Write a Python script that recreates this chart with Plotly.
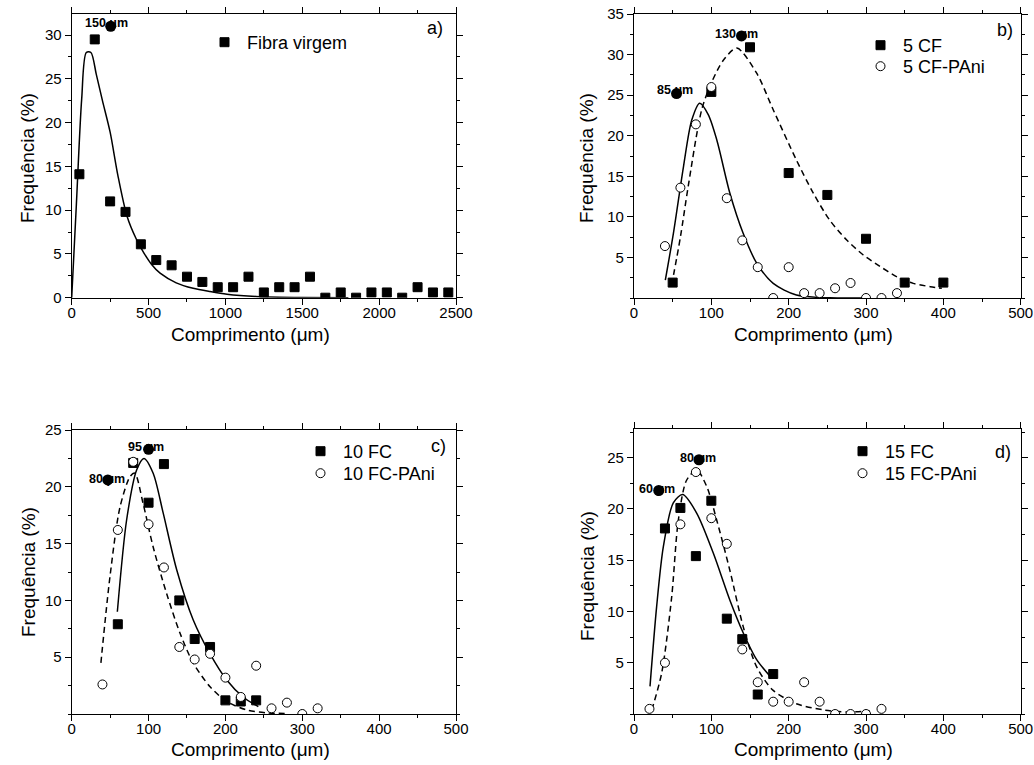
import plotly.graph_objects as go

FONT = "Liberation Sans, Arial, sans-serif"
W, H = 1034, 765

# ---------------- a) virgin fibre ----------------
a_len = [50, 150, 250, 350, 450, 550, 650, 750, 850, 950, 1050, 1150, 1250,
         1350, 1450, 1550, 1650, 1750, 1850, 1950, 2050, 2150, 2250, 2350, 2450]
a_freq = [14.1, 29.5, 11.0, 9.8, 6.1, 4.3, 3.7, 2.4, 1.8, 1.2, 1.2, 2.4, 0.6,
          1.2, 1.2, 2.4, 0.0, 0.6, 0.0, 0.6, 0.6, 0.0, 1.2, 0.6, 0.6]
a_fit_x = [0, 30, 65, 95, 125, 160, 200, 250, 300, 360, 420, 470, 520, 575,
           680, 790, 900, 1010, 1200, 1500, 1800]
a_fit_y = [0, 10.5, 22.7, 28.0, 28.0, 25.5, 22.5, 18.9, 14.0, 9.3, 6.7, 5.1,
           3.8, 2.8, 1.7, 1.07, 0.7, 0.4, 0.15, 0.03, 0.0]

# ---------------- b) 5 CF ----------------
b_cf_x = [50, 100, 150, 200, 250, 300, 350, 400]
b_cf_y = [1.9, 25.4, 30.9, 15.4, 12.7, 7.3, 1.9, 1.9]
b_pani_x = [40, 60, 80, 100, 120, 140, 160, 180, 200, 220, 240, 260, 280, 300, 320, 340]
b_pani_y = [6.4, 13.6, 21.4, 26.0, 12.3, 7.1, 3.8, 0.0, 3.8, 0.6, 0.6, 1.2, 1.85, 0.0, 0.0, 0.6]
b_fit_pani_x = [40.5, 51, 64, 74.6, 85, 96, 107, 124, 141, 158.6, 180, 210, 253, 300]
b_fit_pani_y = [2.2, 8.0, 16.2, 21.9, 24.0, 22.6, 19.5, 12.9, 8.0, 4.3, 1.8, 0.37, 0.02, 0.0]
b_fit_cf_x = [48.7, 60, 70, 87.5, 100, 115.5, 133, 158.6, 180, 210, 232, 253, 275,
              296.5, 318, 340, 361, 383, 398]
b_fit_cf_y = [1.6, 7.5, 13.7, 23.2, 26.5, 29.3, 30.8, 27.7, 23.2, 17.0, 12.9, 9.6,
              7.15, 5.3, 3.9, 2.6, 1.8, 1.4, 1.2]

# ---------------- c) 10 FC ----------------
c_fc_x = [60, 80, 100, 120, 140, 160, 180, 200, 220, 240]
c_fc_y = [7.9, 22.1, 18.6, 22.0, 10.0, 6.6, 5.9, 1.2, 1.1, 1.2]
c_pani_x = [40, 60, 80, 100, 120, 140, 160, 180, 200, 220, 240, 260, 280, 300, 320]
c_pani_y = [2.6, 16.2, 22.2, 16.7, 12.9, 5.9, 4.8, 5.3, 3.2, 1.5, 4.25, 0.5, 1.0, 0.0, 0.5]
c_fit_fc_x = [59.4, 71.5, 84.6, 94, 106, 119, 136.6, 158, 180, 201.7, 223, 242.8]
c_fit_fc_y = [9.0, 17.1, 21.5, 22.5, 21.2, 17.7, 12.7, 8.3, 5.3, 3.0, 1.5, 0.65]
c_fit_pani_x = [38, 49.8, 62.8, 75.9, 82, 93, 106, 123.5, 141, 158, 180, 201.7,
                227.7, 253.5, 280]
c_fit_pani_y = [4.5, 12.1, 18.2, 20.9, 21.2, 18.5, 14.7, 10.6, 7.1, 4.5, 2.4, 1.1,
                0.35, 0.1, 0.05]

# ---------------- d) 15 FC ----------------
d_fc_x = [40, 60, 80, 100, 120, 140, 160, 180]
d_fc_y = [18.1, 20.1, 15.4, 20.8, 9.3, 7.3, 1.9, 3.9]
d_pani_x = [20, 40, 60, 80, 100, 120, 140, 160, 180, 200, 220, 240, 260, 280, 300, 320]
d_pani_y = [0.5, 5.0, 18.5, 23.6, 19.1, 16.6, 6.3, 3.1, 1.2, 1.2, 3.1, 1.2, 0.0, 0.0, 0.0, 0.5]
d_fit_fc_x = [20.7, 29.3, 37.9, 50.8, 63, 81, 102.5, 124, 141.3, 158.6, 178]
d_fit_fc_y = [2.7, 10.5, 16.3, 20.6, 21.4, 19.6, 15.7, 11.1, 7.9, 5.3, 3.5]
d_fit_pani_x = [23, 35.8, 48.7, 57.3, 68, 81, 94, 107, 124, 141.3, 158.6, 180, 210,
                245, 275, 305]
d_fit_pani_y = [0.4, 4.0, 11.4, 18.9, 22.8, 23.8, 22.2, 18.9, 14.0, 8.5, 4.6, 2.3,
                1.0, 0.4, 0.2, 0.3]

# peak labels: (panel, text, text start x, text y, symbol x, symbol y)
peak_labels = [
    ("a", "150 μm", 71.6, 31.35, 254, 31.0),
    ("b", "130 μm", 101.8, 32.5, 139, 32.3),
    ("b", "85 μm", 27.2, 25.6, 55, 25.2),
    ("c", "95 μm", 70.3, 23.5, 100, 23.3),
    ("c", "80 μm", 19.5, 20.7, 47, 20.6),
    ("d", "80 μm", 56.5, 25.0, 84, 24.8),
    ("d", "60 μm", 4.3, 21.95, 32, 21.8),
]

# panel frames in pixels: left, right, top, bottom
frames = {
    "a": (71.7, 456.0, 14.0, 297.7),
    "b": (634.0, 1020.7, 14.0, 298.0),
    "c": (71.7, 456.0, 430.0, 714.0),
    "d": (634.0, 1020.7, 429.0, 714.0),
}
axis_ids = {"a": "", "b": "2", "c": "3", "d": "4"}
x_ranges = {"a": [0, 2500], "b": [0, 500], "c": [0, 500], "d": [0, 500]}
y_ranges = {"a": [0, 32.4], "b": [0, 35], "c": [0, 25], "d": [0, 27.8]}
y_ticks = {"a": [0, 5, 10, 15, 20, 25, 30], "b": [5, 10, 15, 20, 25, 30, 35],
           "c": [5, 10, 15, 20, 25], "d": [5, 10, 15, 20, 25]}
corner_labels = {"a": ("a)", 435, 28), "b": ("b)", 1005, 30),
                 "c": ("c)", 438, 446), "d": ("d)", 1003, 452)}
# axis title centres in pixels: (x title x, x title y, y title x, y title y)
title_pos = {"a": (250, 334, 28, 158), "b": (813, 334, 587, 158),
             "c": (250, 749, 28, 572), "d": (813, 749, 587, 576)}
# legend box corners in pixels (left, top), one key per legend
legend_box = {
    "Fibra virgem": (202, 24),
    "5 CF": (858, 27), "5 CF-PAni": (858, 48),
    "10 FC": (298, 433), "10 FC-PAni": (298, 455),
    "15 FC": (840, 433), "15 FC-PAni": (840, 455),
}

fig = go.Figure()
legend_count = [0]
layout_legends = {}


def refs(p):
    i = axis_ids[p]
    return "x" + i, "y" + i


def add_points(p, x, y, name, symbol):
    xr, yr = refs(p)
    legend_count[0] += 1
    lid = "legend" if legend_count[0] == 1 else "legend%d" % legend_count[0]
    lx, ly = legend_box[name]
    layout_legends[lid] = dict(
        x=lx / W, y=1 - ly / H, xanchor="left", yanchor="top",
        bgcolor="rgba(0,0,0,0)", borderwidth=0, itemwidth=35,
        font=dict(family=FONT, size=18, color="black"))
    fig.add_trace(go.Scatter(
        x=x, y=y, mode="markers", name=name, xaxis=xr, yaxis=yr, legend=lid,
        marker=dict(symbol=symbol, size=9,
                    color="black" if symbol == "square" else "white",
                    line=dict(color="black", width=1))))


def add_fit(p, x, y, dash):
    xr, yr = refs(p)
    fig.add_trace(go.Scatter(
        x=x, y=y, mode="lines", xaxis=xr, yaxis=yr, showlegend=False,
        line=dict(color="black", width=1.5, dash=dash, shape="spline", smoothing=0.8)))


add_fit("a", a_fit_x, a_fit_y, "solid")
add_points("a", a_len, a_freq, "Fibra virgem", "square")

add_fit("b", b_fit_pani_x, b_fit_pani_y, "solid")
add_fit("b", b_fit_cf_x, b_fit_cf_y, "6px,4px")
add_points("b", b_cf_x, b_cf_y, "5 CF", "square")
add_points("b", b_pani_x, b_pani_y, "5 CF-PAni", "circle")

add_fit("c", c_fit_fc_x, c_fit_fc_y, "solid")
add_fit("c", c_fit_pani_x, c_fit_pani_y, "6px,4px")
add_points("c", c_fc_x, c_fc_y, "10 FC", "square")
add_points("c", c_pani_x, c_pani_y, "10 FC-PAni", "circle")

add_fit("d", d_fit_fc_x, d_fit_fc_y, "solid")
add_fit("d", d_fit_pani_x, d_fit_pani_y, "6px,4px")
add_points("d", d_fc_x, d_fc_y, "15 FC", "square")
add_points("d", d_pani_x, d_pani_y, "15 FC-PAni", "circle")

annotations = []
for p, text, tx, ty, sx, sy in peak_labels:
    xr, yr = refs(p)
    fig.add_trace(go.Scatter(
        x=[sx], y=[sy], mode="markers", xaxis=xr, yaxis=yr, showlegend=False,
        cliponaxis=False, marker=dict(symbol="circle", size=11, color="black")))
    annotations.append(dict(
        x=tx, y=ty, xref=xr, yref=yr, text="<b>" + text + "</b>", showarrow=False,
        xanchor="left", yanchor="middle", font=dict(family=FONT, size=12.5, color="black")))

for p, (txt, px, py) in corner_labels.items():
    annotations.append(dict(
        x=px / W, y=1 - py / H, xref="paper", yref="paper", text=txt, showarrow=False,
        xanchor="center", yanchor="middle", font=dict(family=FONT, size=18, color="black")))

for p, (xtx, xty, ytx, yty) in title_pos.items():
    annotations.append(dict(
        x=xtx / W, y=1 - xty / H, xref="paper", yref="paper", text="Comprimento (μm)",
        showarrow=False, xanchor="center", yanchor="middle",
        font=dict(family=FONT, size=19, color="black")))
    annotations.append(dict(
        x=ytx / W, y=1 - yty / H, xref="paper", yref="paper", text="Frequência (%)",
        showarrow=False, xanchor="center", yanchor="middle", textangle=-90,
        font=dict(family=FONT, size=19, color="black")))

layout = dict(
    width=W, height=H, margin=dict(l=0, r=0, t=0, b=0, autoexpand=False),
    paper_bgcolor="white", plot_bgcolor="white",
    font=dict(family=FONT, color="black"),
    annotations=annotations,
)
layout.update(layout_legends)

for p, (l, r, t, b) in frames.items():
    i = axis_ids[p]
    xdt = 500 if p == "a" else 100
    common = dict(showline=True, linecolor="black", linewidth=1.2, mirror="ticks",
                  ticks="outside", ticklen=6, tickwidth=1.2, tickcolor="black",
                  showgrid=False, zeroline=False, automargin=False,
                  tickfont=dict(family=FONT, size=15, color="black"))
    layout["xaxis" + i] = dict(
        common, domain=[l / W, r / W], range=x_ranges[p], anchor="y" + i,
        tickmode="linear", tick0=0, dtick=xdt, ticklabelstandoff=-5,
        minor=dict(ticks="outside", ticklen=3, tickcolor="black", tickwidth=1.2,
                   tickmode="linear", tick0=0, dtick=xdt / 2))
    layout["yaxis" + i] = dict(
        common, domain=[1 - b / H, 1 - t / H], range=y_ranges[p], anchor="x" + i,
        tickmode="array", tickvals=y_ticks[p],
        minor=dict(ticks="outside", ticklen=3, tickcolor="black", tickwidth=1.2,
                   tickmode="linear", tick0=0, dtick=2.5))

fig.update_layout(**layout)
fig.write_html("out.html")
